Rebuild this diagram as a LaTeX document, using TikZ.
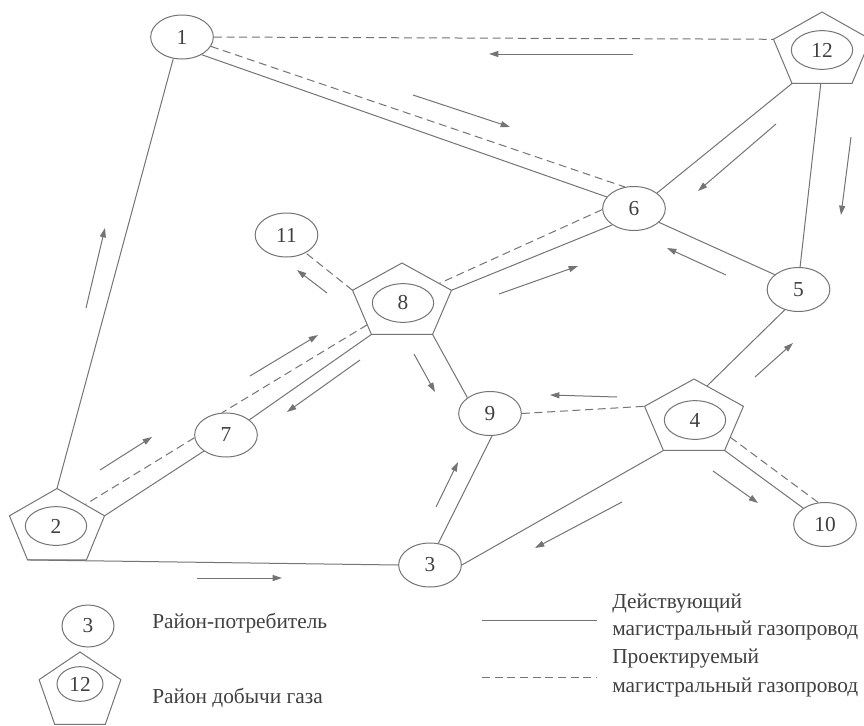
\documentclass[tikz,border=0pt]{standalone}
\usepackage{fontspec}
\setmainfont{Liberation Serif}
\usetikzlibrary{shapes.geometric,arrows.meta,calc}
\definecolor{ln}{HTML}{747474}
\definecolor{tx}{HTML}{404040}
\tikzset{
 consumer/.style={ellipse,draw=ln,line width=0.75pt,minimum width=47pt,minimum height=33pt,inner sep=0pt,text=tx,font=\fontsize{16}{16}\selectfont},
 innerell/.style={ellipse,draw=ln,line width=0.75pt,minimum width=46pt,minimum height=29pt,inner sep=0pt,text=tx,font=\fontsize{16}{16}\selectfont},
 pipe/.style={draw=ln,line width=0.75pt},
 plan/.style={draw=ln,line width=0.75pt,dash pattern=on 6pt off 3.5pt},
 flow/.style={draw=ln,line width=0.75pt,-{Triangle[length=7pt,width=4.5pt]}},
 legtext/.style={anchor=west,text=tx,font=\fontsize{16}{16}\selectfont,inner sep=0pt},
}
\newcommand{\pentagonat}[5]{%
 \coordinate (#1-t) at (#2,#3-#5);
 \coordinate (#1-ur) at (#2+0.951*#4,#3-0.309*#5);
 \coordinate (#1-lr) at (#2+0.588*#4,#3+0.809*#5);
 \coordinate (#1-ll) at (#2-0.588*#4,#3+0.809*#5);
 \coordinate (#1-ul) at (#2-0.951*#4,#3-0.309*#5);
 \draw[pipe] (#1-t)--(#1-ur)--(#1-lr)--(#1-ll)--(#1-ul)--cycle;
}
\begin{document}
\begin{tikzpicture}[x=0.75pt,y=-0.75pt]
\useasboundingbox (0,0) rectangle (864,725);
\clip (0,0) rectangle (864,725);
\fill[white] (0,0) rectangle (864,725);
% production regions
\pentagonat{p2}{57}{528}{50}{39.5}
\pentagonat{p8}{402}{302.5}{52}{39.5}
\pentagonat{p4}{694}{418.5}{52}{39.5}
\pentagonat{p12}{822}{51.5}{51}{39.5}
\node[innerell] (n2) at (56,526) {2};
\node[innerell] (n8) at (403,303) {8};
\node[innerell] (n4) at (695,420) {4};
\node[innerell] (n12) at (822,50) {12};
% consumer regions
\node[consumer] (n1) at (182,37) {1};
\node[consumer] (n11) at (286.5,235) {11};
\node[consumer] (n6) at (634,208.5) {6};
\node[consumer] (n7) at (226,435) {7};
\node[consumer] (n3) at (430,565) {3};
\node[consumer] (n9) at (490,413.5) {9};
\node[consumer] (n5) at (798.5,289.5) {5};
\node[consumer] (n10) at (825,524.5) {10};
% pipelines
\draw[plan] (n1.east) -- (p12-ul);
\draw[plan] (n1.-18) -- (n6.113);
\draw[pipe] (n1.-42) -- (n6.157);
\draw[pipe] (n1.-112) -- (p2-t);
\draw[pipe] (p12-ll) -- (n6.34);
\draw[pipe] ($(p12-ll)!0.48!(p12-lr)$) -- (n5.86);
\draw[pipe] (n6.-29) -- (n5.148);
\draw[plan] (n6.182) -- ($(p8-t)!0.75!(p8-ur)$);
\draw[pipe] (n6.217) -- (p8-ur);
\draw[plan] (p8-ul) -- (n11.-43);
\draw[plan] ($(p8-ul)!0.78!(p8-ll)$) -- (n7.100);
\draw[pipe] (p8-ll) -- (n7.33);
\draw[plan] (n7.185) -- ($(p2-t)!0.59!(p2-ur)$);
\draw[pipe] (n7.216) -- (p2-ur);
\draw[pipe] (p8-lr) -- (n9.145);
\draw[plan] (n9.east) -- (p4-ul);
\draw[pipe] (n9.-85) -- (n3.69);
\draw[pipe] (p2-ll) -- (n3.west);
\draw[pipe] (p4-ll) -- (n3.east);
\draw[pipe] ($(p4-t)!0.26!(p4-ur)$) -- (n5.236);
\draw[pipe] (p4-lr) -- (n10.143);
\draw[plan] ($(p4-ur)!0.7!(p4-lr)$) -- (n10.107);
% flow directions
\draw[flow] (633,54) -- (489,54);
\draw[flow] (413,95) -- (510,127);
\draw[flow] (776,124) -- (698,191);
\draw[flow] (851,137) -- (841,215);
\draw[flow] (726,275) -- (667,248);
\draw[flow] (499,294) -- (578,266);
\draw[flow] (327,293) -- (297,270);
\draw[flow] (250,376) -- (318,335);
\draw[flow] (360,360) -- (287,412);
\draw[flow] (100,470) -- (152,437);
\draw[flow] (414,354) -- (435,392);
\draw[flow] (86,308) -- (105,228);
\draw[flow] (197,578) -- (282,578);
\draw[flow] (436,507) -- (458,462);
\draw[flow] (617,397) -- (550,395);
\draw[flow] (755,377) -- (793,343);
\draw[flow] (713,471) -- (758,503);
\draw[flow] (622,502) -- (535,548);
% legend
\node[consumer,minimum width=39pt,minimum height=31.5pt] (l3) at (88,626) {3};
\pentagonat{lp}{80}{692}{43}{40}
\node[innerell,minimum width=34.5pt,minimum height=26pt] (l12) at (80,684) {12};
\node[legtext] (t1) at (152,623) {Район-потребитель};
\node[legtext] (t2) at (152,698) {Район добычи газа};
\coordinate (ls1) at (482,620); \coordinate (ls2) at (597,620);
\draw[pipe] (ls1) -- (ls2);
\coordinate (ld1) at (482,677); \coordinate (ld2) at (597,677);
\draw[plan] (ld1) -- (ld2);
\node[legtext] (t3) at (612,603) {Действующий};
\node[legtext] (t4) at (612,630) {магистральный газопровод};
\node[legtext] (t5) at (612,658) {Проектируемый};
\node[legtext] (t6) at (612,687) {магистральный газопровод};
\end{tikzpicture}
\end{document}
